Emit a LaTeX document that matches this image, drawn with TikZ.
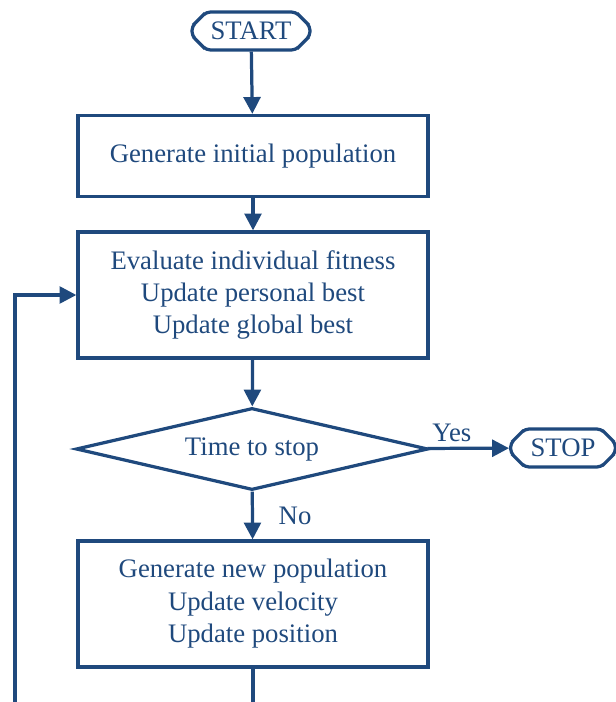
\documentclass[tikz,border=0pt]{standalone}
\usepackage{fontspec}
\setmainfont{Liberation Serif}
\usetikzlibrary{shapes.geometric,shapes.misc,arrows.meta}
\definecolor{flowblue}{RGB}{31,73,125}

\begin{document}
\begin{tikzpicture}[
    x=0.025cm, y=-0.025cm,
    every node/.style={text=flowblue, font=\fontsize{19}{23}\selectfont},
    terminal/.style={draw=flowblue, line width=2.3pt, chamfered rectangle,
        chamfered rectangle xsep=0.25cm, rounded corners=3pt,
        minimum height=0.95cm, inner sep=2pt},
    process/.style={draw=flowblue, line width=2.3pt, rectangle,
        minimum width=8.75cm, align=center},
    decision/.style={draw=flowblue, line width=2.3pt, diamond, aspect=4.3,
        minimum width=8.8cm, minimum height=2.05cm, inner sep=0pt},
    flow/.style={draw=flowblue, line width=2.3pt,
        -{Triangle[length=0.42cm,width=0.42cm]}}
]
    \useasboundingbox (0,0) rectangle (616,702);
    \node[terminal, minimum width=2.95cm] (start) at (251,31) {START};
    \node[process, minimum height=2.025cm] (init) at (253,156)
        {Generate initial population};
    \node[process, minimum height=3.15cm, text depth=0.15cm] (eval) at (253,295)
        {Evaluate individual fitness\\Update personal best\\Update global best};
    \node[decision] (stop?) at (252,449) {Time to stop};
    \node[terminal, minimum width=2.62cm] (stop) at (563,448) {STOP};
    \node[process, minimum height=3.15cm, text depth=0.15cm] (newpop) at (253,604)
        {Generate new population\\Update velocity\\Update position};
    \coordinate (loop) at (15,712);

    \draw[flow] (start) -- (init);
    \draw[flow] (init) -- (eval);
    \draw[flow] (eval) -- (stop?);
    \draw[flow] (stop?) -- node[above, pos=0.3] {Yes} (stop);
    \draw[flow] (stop?) -- node[right, pos=0.5, xshift=0.5cm] {No} (newpop);
    \draw[flow, line cap=rect] (newpop.south) |- (loop) |- (eval.west);
\end{tikzpicture}
\end{document}
